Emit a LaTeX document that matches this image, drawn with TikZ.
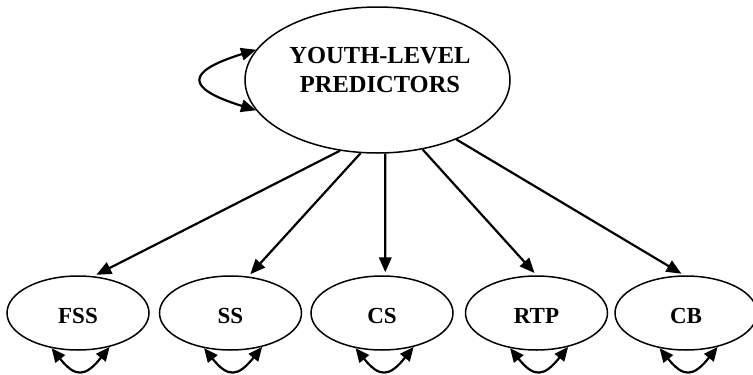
\documentclass[tikz,border=0pt]{standalone}
\usepackage{fontspec}
\setmainfont{Liberation Serif}
\usetikzlibrary{shapes.geometric,arrows.meta}
\begin{document}
\begin{tikzpicture}[x=1pt,y=-1pt,
  bigell/.style={ellipse,draw,line width=1.5pt,minimum width=265pt,minimum height=146pt,inner sep=0pt},
  bigtxt/.style={font=\fontsize{24.5}{28.5}\selectfont\bfseries,align=center,inner sep=0pt},
  lat/.style={ellipse,draw,line width=1.5pt,minimum width=142pt,minimum height=74pt,inner sep=0pt,
    font=\fontsize{23}{27}\selectfont\bfseries,text height=21pt},
  regarrow/.style={line width=2.2pt,-{Triangle[length=15pt,width=12.5pt]},shorten >=3pt},
  selfloop/.style={line width=2.2pt,{Triangle[length=15pt,width=12.5pt]}-{Triangle[length=15pt,width=12.5pt]}},
  resloop/.style={line width=2.2pt,{Triangle[length=14pt,width=12pt]}-{Triangle[length=14pt,width=12pt]}}
]
\useasboundingbox (0,0) rectangle (753,375);
\node[bigell] (yl) at (377.5,80) {};
\node[bigtxt] (yltext) at (380,70) {YOUTH-LEVEL\\PREDICTORS};

\node[lat] (fss) at (78,313) {FSS};
\node[lat] (ss) at (230.5,313) {SS};
\node[lat] (cs) at (382,313) {CS};
\node[lat] (rtp) at (536.5,313) {RTP};
\node[lat] (cb) at (686,313) {CB};

\draw[regarrow] (yl.-118.8) -- (fss.67.5);
\draw[regarrow] (yl.-103.5) -- (ss.64);
\draw[regarrow] (yl.-84.2) -- (cs.85);
\draw[regarrow] (yl.-57.1) -- (rtp.90);
\draw[regarrow] (yl.-37.9) -- (cb.93);

\draw[selfloop] (yl.166) .. controls +(-71,22) and +(-71,-22) .. (yl.-166);

\foreach \n in {fss,ss,cs,rtp,cb}{
  \draw[resloop] (\n.-127) .. controls +(24,30) and +(-24,30) .. (\n.-47);
}
\end{tikzpicture}
\end{document}
